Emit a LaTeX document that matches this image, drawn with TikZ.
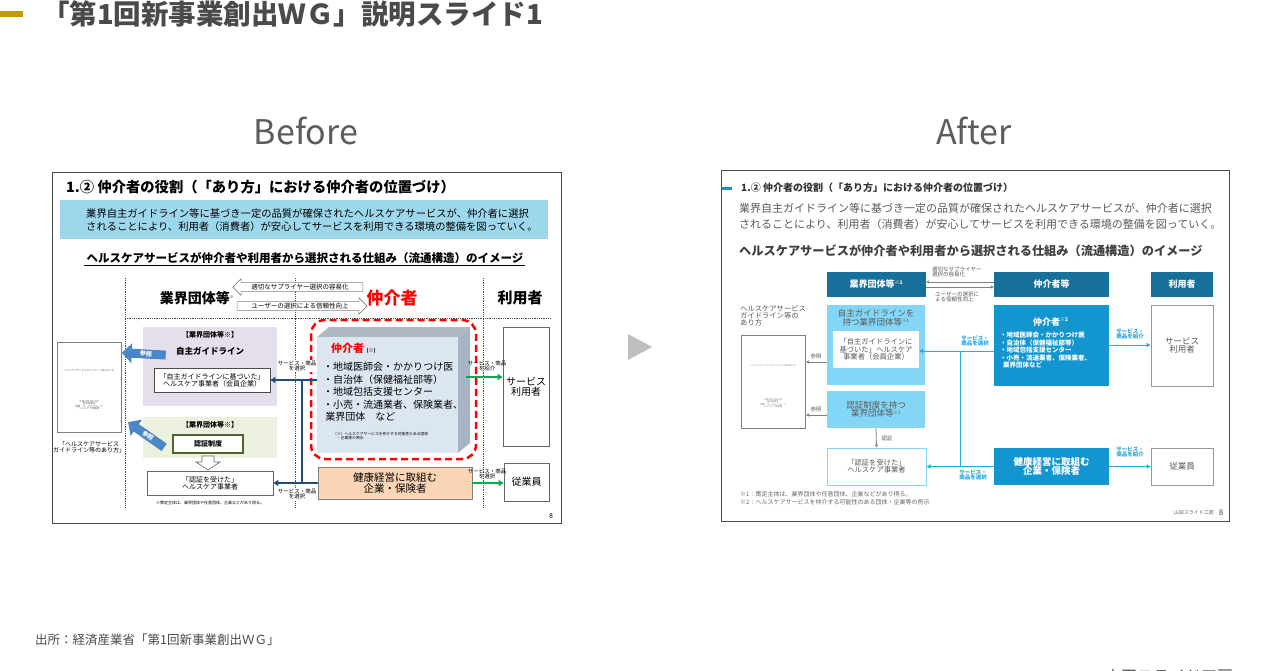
\documentclass[tikz,border=0pt]{standalone}
\usepackage{fontspec}
\setmainfont{Noto Sans CJK JP}
\usetikzlibrary{arrows.meta,shapes.arrows}
\newcommand\fsz[1]{\fontsize{#1}{#1}\selectfont}
\definecolor{gold}{HTML}{C39A0B}
\definecolor{tgray}{HTML}{4A4A4A}
\definecolor{bband}{HTML}{9DD7EC}
\definecolor{bpurple}{HTML}{E5DFEC}
\definecolor{bgreen}{HTML}{EBF1DE}
\definecolor{bdgreen}{HTML}{4F6228}
\definecolor{bnavy}{HTML}{1F4E79}
\definecolor{bface}{HTML}{DCE6F1}
\definecolor{bside}{HTML}{A6B4C4}
\definecolor{borange}{HTML}{FBD5B5}
\definecolor{bgrn}{HTML}{00B050}
\definecolor{barrow}{HTML}{4A86C8}
\definecolor{ahead}{HTML}{17709A}
\definecolor{amid}{HTML}{1396CF}
\definecolor{alight}{HTML}{84D6F7}
\definecolor{aline}{HTML}{2AA8E0}
\tikzset{x=1pt,y=-1pt,
 bx/.style={draw=#1,line width=0.8pt,inner sep=0pt,align=center},
 lbl/.style={inner sep=0pt,align=center},
 dl/.style={densely dotted,line width=0.8pt,black!70},
 navyar/.style={draw=bnavy,line width=2pt,-{Triangle[length=5pt,width=6pt]}},
 grnar/.style={draw=bgrn,line width=2pt,-{Triangle[length=5pt,width=6pt]}},
 aar/.style={draw=aline,line width=1pt,-{Triangle[length=4pt,width=4pt]}},
 gar/.style={draw=gray,line width=0.8pt,-{Triangle[length=3pt,width=3pt]}},
 fat/.style={single arrow,fill=barrow,draw=none,minimum height=44pt,minimum width=20pt,single arrow head extend=5pt,inner sep=1pt,text=white,font=\fsz{6}\bfseries},
 hollow/.style={single arrow,draw=gray,fill=white,line width=0.6pt,minimum height=130pt,minimum width=12pt,single arrow head extend=4pt,inner sep=1pt,font=\fsz{6.5}}
}
\begin{document}
\begin{tikzpicture}
\useasboundingbox (0,0) rectangle (1280,670);
\fill[white] (0,0) rectangle (1280,670);
% page title
\fill[gold] (0,11) rectangle (23,17);
\node[anchor=west,text=tgray,font=\fsz{27.5}\bfseries,inner sep=0pt] (ttl) at (42,14) {「第1回新事業創出ＷＧ」説明スライド1};
\node[text=tgray!90,font=\fsz{34},inner sep=0pt] (bef) at (306,131) {Before};
\node[text=tgray!90,font=\fsz{34},inner sep=0pt] (aft) at (974,131) {After};
\fill[black!25] (628,334) -- (652,347) -- (628,360) -- cycle;
\node[anchor=west,font=\fsz{12.5},inner sep=0pt,text=tgray] (src) at (35,640) {出所：経済産業省「第1回新事業創出ＷＧ」};
\begin{scope}
\clip (0,0) rectangle (1280,670);
\node[anchor=west,font=\fsz{16},inner sep=0pt,text=tgray] (yam) at (1105,677) {山田スライド工房};
\end{scope}

% ================= BEFORE =================
\draw[black!70,line width=0.8pt] (52,172) rectangle (561,523);
\node[anchor=west,lbl,font=\fsz{14.3}\bfseries] (bt) at (66,187) {1.② 仲介者の役割（「あり方」における仲介者の位置づけ）};
\fill[bband] (60,200) rectangle (548,239);
\node[anchor=west,lbl,font=\fsz{10.3},align=left] (bb) at (86,220) {業界自主ガイドライン等に基づき一定の品質が確保されたヘルスケアサービスが、仲介者に選択\\[3pt]されることにより、利用者（消費者）が安心してサービスを利用できる環境の整備を図っていく。};
\fill[bnavy] (92,212) circle (2.3);
\node[lbl,font=\fsz{11.5}\bfseries] (bh) at (305,258) {ヘルスケアサービスが仲介者や利用者から選択される仕組み（流通構造）のイメージ};
\draw[line width=0.6pt] (84,265.5) -- (525,265.5);
\draw[dl] (125,278) -- (125,508);
\draw[dl] (295,278) -- (295,508);
\draw[dl] (483,278) -- (483,508);
\draw[dl] (125,318) -- (550,318);
\node[lbl,font=\fsz{14}\bfseries] (bg1) at (197,298) {業界団体等\textsuperscript{\fsz{4}※}};
\node[lbl,font=\fsz{17}\bfseries,text=red] (bg2) at (392,298) {仲介者};
\node[lbl,font=\fsz{15}\bfseries] (bg3) at (520,298) {利用者};
\node[hollow,shape border rotate=180] (ha1) at (300,287) {適切なサプライヤー選択の容易化};
\node[hollow] (ha2) at (300,306) {ユーザーの選択による信頼性向上};
% purple
\fill[bpurple] (143,327) rectangle (277,406);
\node[lbl,font=\fsz{7}\bfseries] (p1) at (210,335) {【業界団体等※】};
\node[lbl,font=\fsz{8.5}\bfseries] (p2) at (210,351) {自主ガイドライン};
\node[bx=black!70,fill=white,minimum width=116pt,minimum height=24pt,font=\fsz{7}] (p3) at (212,380) {「自主ガイドラインに基づいた」\\ヘルスケア事業者（会員企業）};
% green
\fill[bgreen] (143,417) rectangle (277,458);
\node[lbl,font=\fsz{7}\bfseries] (g1) at (210,425) {【業界団体等※】};
\node[bx=bdgreen,line width=1.2pt,fill=white,minimum width=70pt,minimum height=18pt,font=\fsz{7}\bfseries] (g2) at (208,444) {認証制度};
\draw[black!60,fill=white,line width=0.6pt] (202,456) -- (214,456) -- (214,462) -- (220,462) -- (208,470) -- (196,462) -- (202,462) -- cycle;
\node[bx=black!60,fill=white,minimum width=126pt,minimum height=24pt,font=\fsz{7}] (g3) at (210,483) {「認証を受けた」\\ヘルスケア事業者};
\node[lbl,font=\fsz{4}] (bn) at (210,503) {※策定主体は、業界団体や任意団体、企業などがあり得る。};
% doc
\draw[black!50,line width=0.6pt] (57,342) rectangle (121,432);
\node[lbl,font=\fsz{2.5},text=black!60] (bd1) at (89,371) {ヘルスケアサービスガイドライン等のあり方};
\node[lbl,font=\fsz{2.5},text=black!60] (bd2) at (89,405) {平成31年4月12日\\経済産業省\\商務・サービスグループ\\ヘルスケア産業課};
\node[lbl,font=\fsz{6}] (bdc) at (89,447) {「ヘルスケアサービス\\ガイドライン等のあり方」};
\node[fat,shape border rotate=180,rotate=-3] (fa1) at (146,354) {参照};
\node[fat,shape border rotate=180,rotate=-35] (fa2) at (148,436) {参照};
% 3D box
\draw[red,dashed,line width=2.5pt,rounded corners=14pt,dash pattern=on 7pt off 4pt] (311,320) rectangle (476,459);
\fill[bside] (458,337) -- (470,327) -- (470,443) -- (458,453) -- cycle;
\fill[bface!80!black] (317,337) -- (329,327) -- (470,327) -- (458,337) -- cycle;
\fill[bface] (317,337) rectangle (458,453);
\node[anchor=west,lbl,font=\fsz{11}\bfseries,text=red] (bm) at (331,348) {仲介者 \textcolor{black}{\fsz{5}(※)}};
\node[anchor=north west,lbl,align=left,font=\fsz{10},text=black] (bml) at (323,362) {・地域医師会・かかりつけ医\\[2.5pt]・自治体（保健福祉部等）\\[2.5pt]・地域包括支援センター\\[2.5pt]・小売・流通業者、保険業者、\\[2.5pt]\ 業界団体　など};
\node[anchor=west,lbl,align=left,font=\fsz{3.8}] (bmn) at (333,436) {（※）ヘルスケアサービスを仲介する可能性のある団体\\ \quad・企業等の例示};
\node[bx=black!50,fill=borange,minimum width=154pt,minimum height=32pt,font=\fsz{10.5}] (bo) at (395,483) {健康経営に取組む\\企業・保険者};
% connectors
\coordinate (j1) at (302,380);
\coordinate (j2) at (302,483);
\draw[bnavy,line width=2pt] (j1) -- (j2);
\draw[navyar] (317,380) -- (p3.east);
\draw[navyar] (bo.west) -- (g3.east);
\node[lbl,font=\fsz{5.5},fill=white,inner sep=0.5pt] (s1) at (297,366) {サービス・商品\\を選択};
\node[lbl,font=\fsz{5.5},fill=white,inner sep=0.5pt] (s2) at (297,494) {サービス・商品\\を選択};
\node[bx=black!60,fill=white,minimum width=46pt,minimum height=119pt,font=\fsz{10}] (bu) at (526,387) {サービス\\利用者};
\node[bx=black!60,fill=white,minimum width=45pt,minimum height=38pt,font=\fsz{10}] (be) at (526.5,482) {従業員};
\draw[grnar] (466,377) -- (bu.west |- 0,377);
\draw[grnar] (bo.east |- 0,483) -- (be.west |- 0,483);
\node[lbl,font=\fsz{5.5}] (s3) at (487,366) {サービス・商品\\を紹介};
\node[lbl,font=\fsz{5.5}] (s4) at (487,474) {サービス・商品\\を選択};
\node[lbl,font=\fsz{7}] (bp) at (551,516) {8};

% ================= AFTER =================
\draw[black!70,line width=0.8pt] (721,170) rectangle (1229,521);
\fill[amid] (722,187) rectangle (732,190);
\node[anchor=west,lbl,font=\fsz{10}\bfseries,text=black!80] (at) at (741,188) {1.② 仲介者の役割（「あり方」における仲介者の位置づけ）};
\node[anchor=west,lbl,align=left,text=black!65,font=\fsz{11}] (ab) at (739,216) {業界自主ガイドライン等に基づき一定の品質が確保されたヘルスケアサービスが、仲介者に選択\\[5pt]されることにより、利用者（消費者）が安心してサービスを利用できる環境の整備を図っていく。};
\node[anchor=west,lbl,font=\fsz{12.2}\bfseries,text=black!75] (ah) at (739,251) {ヘルスケアサービスが仲介者や利用者から選択される仕組み（流通構造）のイメージ};
\node[fill=ahead,minimum width=99pt,minimum height=25pt,inner sep=0pt,text=white,font=\fsz{9}\bfseries] (ha) at (876.5,284.5) {業界団体等\textsuperscript{\fsz{5}※1}};
\node[fill=ahead,minimum width=115pt,minimum height=25pt,inner sep=0pt,text=white,font=\fsz{9}\bfseries] (hb) at (1051.5,284.5) {仲介者等};
\node[fill=ahead,minimum width=62pt,minimum height=25pt,inner sep=0pt,text=white,font=\fsz{9}\bfseries] (hc) at (1182,284.5) {利用者};
\draw[gar] (hb.west |- 0,282) -- (ha.east |- 0,282);
\draw[gar] (ha.east |- 0,287) -- (hb.west |- 0,287);
\node[anchor=west,lbl,align=left,font=\fsz{5.5},text=black!65] (aa1) at (932,272) {適切なサプライヤー\\選択の容易化};
\node[anchor=west,lbl,align=left,font=\fsz{5.5},text=black!65] (aa2) at (935,297) {ユーザーの選択に\\よる信頼性向上};
% light boxes
\fill[alight] (827,305) rectangle (925,385);
\node[lbl,font=\fsz{8.5},text=black!65] (l1) at (876,318) {自主ガイドラインを\\持つ業界団体等\textsuperscript{\fsz{4.5}※1}};
\node[fill=white,minimum width=86pt,minimum height=37pt,inner sep=0pt,align=center,font=\fsz{7.3},text=black!65] (l2) at (876,349.5) {「自主ガイドラインに\\基づいた」ヘルスケア\\事業者（会員企業）};
\node[fill=alight,minimum width=98pt,minimum height=37pt,inner sep=0pt,align=center,font=\fsz{8.5},text=black!65] (l3) at (876,409.5) {認証制度を持つ\\業界団体等\textsuperscript{\fsz{4.5}※1}};
\node[draw=alight,line width=1pt,fill=white,minimum width=99pt,minimum height=37pt,inner sep=0pt,align=center,font=\fsz{7.3},text=black!65] (l4) at (876.5,466.5) {「認証を受けた」\\ヘルスケア事業者};
\draw[gar] (l3.south) -- (l4.north);
\node[lbl,font=\fsz{5.5},text=black!65] (ni) at (887,438) {認証};
% doc
\draw[black!50,line width=0.8pt] (741,335) rectangle (805,428);
\node[lbl,font=\fsz{2.3},text=black!50] (ad1) at (773,366) {ヘルスケアサービスガイドライン等のあり方};
\node[lbl,font=\fsz{2.3},text=black!50] (ad2) at (773,403) {平成31年4月12日\\経済産業省\\商務・サービスグループ\\ヘルスケア産業課};
\node[anchor=north west,lbl,align=left,font=\fsz{7.3},text=black!65] (adc) at (740,305) {ヘルスケアサービス\\ガイドライン等の\\あり方};
\draw[gar] (827,362) -- (806,362);
\draw[gar] (827,415) -- (806,415);
\node[lbl,font=\fsz{5.5},text=black!65] (r1) at (816,356) {参照};
\node[lbl,font=\fsz{5.5},text=black!65] (r2) at (816,409) {参照};
% mid boxes
\fill[amid] (994,305) rectangle (1109,386);
\node[lbl,font=\fsz{9}\bfseries,text=white] (m1) at (1051,322) {仲介者\textsuperscript{\fsz{5}※2}};
\node[anchor=north west,lbl,align=left,font=\fsz{6.5}\bfseries,text=white] (m2) at (1000,332) {・地域医師会・かかりつけ医\\[1pt]・自治体（保健福祉部等）\\[1pt]・地域包括支援センター\\[1pt]・小売・流通業者、保険業者、\\[1pt]\ \ 業界団体など};
\node[fill=amid,minimum width=115pt,minimum height=37pt,inner sep=0pt,align=center,font=\fsz{9.5}\bfseries,text=white] (m3) at (1051.5,466.5) {健康経営に取組む\\企業・保険者};
\node[draw=black!40,line width=0.8pt,fill=white,minimum width=62pt,minimum height=81pt,inner sep=0pt,align=center,font=\fsz{8.5},text=black!65] (u1) at (1182,345.5) {サービス\\利用者};
\node[draw=black!40,line width=0.8pt,fill=white,minimum width=62pt,minimum height=37pt,inner sep=0pt,align=center,font=\fsz{8.5},text=black!65] (u2) at (1182,466.5) {従業員};
\coordinate (k1) at (960,351);
\coordinate (k2) at (960,467);
\draw[aar] (994,351) -- (l2.east |- 0,351);
\draw[aline,line width=1pt] (k1) -- (k2);
\draw[aar] (m3.west) -- (l4.east);
\draw[aar] (1109,345) -- (u1.west |- 0,345);
\draw[aar] (m3.east) -- (u2.west);
\node[lbl,font=\fsz{5.5}\bfseries,text=aline] (q1) at (975,341) {サービス・\\商品を選択};
\node[lbl,font=\fsz{5.5}\bfseries,text=aline] (q2) at (973,475) {サービス・\\商品を選択};
\node[lbl,font=\fsz{5.5}\bfseries,text=aline] (q3) at (1130,334) {サービス・\\商品を紹介};
\node[lbl,font=\fsz{5.5}\bfseries,text=aline] (q4) at (1130,452) {サービス・\\商品を紹介};
\node[anchor=west,lbl,align=left,font=\fsz{6},text=black!60] (fn) at (740,498) {※1：策定主体は、業界団体や任意団体、企業などがあり得る。\\[1.5pt]※2：ヘルスケアサービスを仲介する可能性のある団体・企業等の例示};
\node[anchor=east,lbl,font=\fsz{5},text=black!60] (ym) at (1214,513) {山田スライド工房};
\node[lbl,font=\fsz{8},text=black!70] (ap) at (1221,513) {8};
\end{tikzpicture}
\end{document}
